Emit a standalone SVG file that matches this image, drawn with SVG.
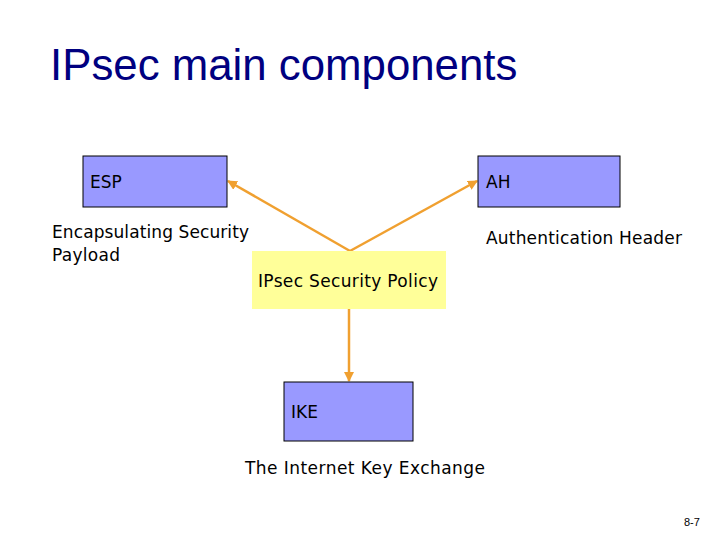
<svg xmlns="http://www.w3.org/2000/svg" width="720" height="540" viewBox="0 0 720 540">
<style>
.t{font-family:"DejaVu Sans",Verdana,sans-serif;fill:#000;font-size:17px}
.box{fill:#9999ff;stroke:#000;stroke-width:1}
.con{stroke:#f0a030;stroke-width:2.5;fill:none}
</style>
<defs>
<marker id="ah" viewBox="0 0 10 10" refX="9" refY="5" markerWidth="4" markerHeight="4" orient="auto"><path d="M0,0L10,5L0,10z" fill="#f0a030"/></marker>
</defs>
<rect width="720" height="540" fill="#fff"/>
<text x="50" y="80" font-family="Liberation Sans,Arial,sans-serif" font-size="43.8" fill="#000080">IPsec main components</text>
<g id="connectors">
<line class="con" x1="350" y1="251" x2="228" y2="181" marker-end="url(#ah)"/>
<line class="con" x1="350" y1="251" x2="477" y2="181" marker-end="url(#ah)"/>
<line class="con" x1="349" y1="309" x2="349" y2="381" marker-end="url(#ah)"/>
</g>
<g id="esp">
<rect class="box" x="83" y="156" width="144" height="51"/>
<text class="t" x="90" y="188">ESP</text>
<text class="t" x="52" y="238" textLength="197">Encapsulating Security</text>
<text class="t" x="52" y="261" textLength="68">Payload</text>
</g>
<g id="ah">
<rect class="box" x="478" y="156" width="142" height="51"/>
<text class="t" x="486" y="188">AH</text>
<text class="t" x="486" y="244" textLength="196">Authentication Header</text>
</g>
<g id="policy">
<rect x="252" y="251" width="194" height="58" fill="#ffff99"/>
<text class="t" x="258" y="287" textLength="180">IPsec Security Policy</text>
</g>
<g id="ike">
<rect class="box" x="284" y="382" width="129" height="59"/>
<text class="t" x="291" y="418">IKE</text>
<text class="t" x="245" y="474" textLength="240">The Internet Key Exchange</text>
</g>
<text x="684" y="526" font-family="Liberation Sans,Arial,sans-serif" font-size="11" fill="#000">8-7</text>
</svg>
